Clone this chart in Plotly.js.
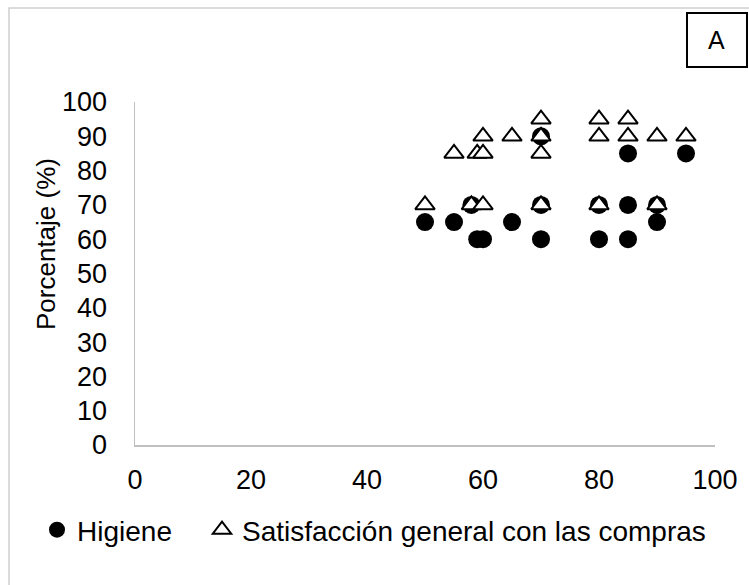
<!DOCTYPE html>
<html>
<head>
<meta charset="utf-8">
<script src="https://cdn.plot.ly/plotly-3.0.1.min.js"></script>
<style>
  html, body { margin: 0; padding: 0; background: #ffffff; }
  #chart { width: 749px; height: 585px; }
</style>
</head>
<body>
<div id="chart"></div>
<script>
// Series: Higiene (filled circles)
var higieneX = [70, 85, 95, 58, 70, 80, 85, 90, 50, 55, 65, 90, 59, 60, 70, 80, 85];
var higieneY = [90, 85, 85, 70, 70, 70, 70, 70, 65, 65, 65, 65, 60, 60, 60, 60, 60];

// Series: Satisfacción general con las compras (open triangles)
var satisX = [55, 59, 60, 60, 65, 70, 70, 70, 80, 80, 85, 85, 90, 95, 50, 58, 60, 70, 80, 90];
var satisY = [85, 85, 85, 90, 90, 95, 90, 85, 95, 90, 95, 90, 90, 90, 70, 70, 70, 70, 70, 70];

var seriesNames = ["Higiene", "Satisfacción general con las compras"];
var xTicks = [0, 20, 40, 60, 80, 100];
var yTicks = [0, 10, 20, 30, 40, 50, 60, 70, 80, 90, 100];
var yTitle = "Porcentaje (%)";
var panelLabel = "A";

var FONT = "Liberation Sans, Arial, sans-serif";

var traces = [
  {
    type: "scatter", mode: "markers", name: seriesNames[0],
    x: higieneX, y: higieneY, legend: "legend",
    marker: { symbol: "circle", size: 18, color: "#000000", line: { width: 0 } },
    cliponaxis: false
  },
  {
    type: "scatter", mode: "markers", name: seriesNames[1],
    x: satisX, y: satisY, legend: "legend2",
    marker: { symbol: "triangle-up", size: 17, color: "#ffffff", line: { width: 2, color: "#000000" } },
    cliponaxis: false
  }
];

var W = 749, H = 585;
var ml = 135, mr = 34, mt = 102, mb = 140;
var pw = W - ml - mr, ph = H - mt - mb;
function px2x(p) { return (p - ml) / pw; }
function py2y(p) { return (H - mb - p) / ph; }

var legendFont = { family: FONT, size: 28, color: "#000000" };

var layout = {
  width: W, height: H,
  margin: { l: ml, r: mr, t: mt, b: mb, pad: 0 },
  paper_bgcolor: "#ffffff", plot_bgcolor: "#ffffff",
  font: { family: FONT, color: "#000000", size: 26 },
  showlegend: true,
  xaxis: {
    range: [0, 100], tickvals: xTicks, ticktext: xTicks.map(String),
    showgrid: false, zeroline: false, showline: true, linecolor: "#c0c0c0", linewidth: 1.5,
    ticks: "", ticklabelstandoff: 10,
    tickfont: { family: FONT, size: 27, color: "#000000" },
    fixedrange: true
  },
  yaxis: {
    range: [0, 100], tickvals: yTicks, ticktext: yTicks.map(String),
    showgrid: false, zeroline: false, showline: true, linecolor: "#c0c0c0", linewidth: 1.5,
    ticks: "", ticklabelstandoff: 21,
    tickfont: { family: FONT, size: 27, color: "#000000" },
    fixedrange: true
  },
  legend: {
    orientation: "h",
    x: px2x(37), xanchor: "left",
    y: py2y(530), yanchor: "middle",
    font: legendFont,
    bgcolor: "rgba(0,0,0,0)", borderwidth: 0,
    itemclick: false, itemdoubleclick: false
  },
  legend2: {
    orientation: "h",
    x: px2x(202), xanchor: "left",
    y: py2y(530), yanchor: "middle",
    font: legendFont,
    bgcolor: "rgba(0,0,0,0)", borderwidth: 0,
    itemclick: false, itemdoubleclick: false
  },
  shapes: [
    { type: "rect", xref: "paper", yref: "paper",
      x0: px2x(9), x1: px2x(800), y0: py2y(640), y1: py2y(8),
      line: { color: "#d0d0d0", width: 1.5 }, fillcolor: "rgba(0,0,0,0)", layer: "below" },
    { type: "rect", xref: "paper", yref: "paper",
      x0: px2x(687), x1: px2x(747), y0: py2y(67), y1: py2y(13),
      line: { color: "#000000", width: 2 }, fillcolor: "#ffffff" }
  ],
  annotations: [
    { text: panelLabel, xref: "paper", yref: "paper", x: px2x(717), y: py2y(40),
      xanchor: "center", yanchor: "middle", showarrow: false,
      font: { family: FONT, size: 25, color: "#000000" } },
    { text: yTitle, xref: "paper", yref: "paper", x: px2x(46), y: py2y(244),
      xanchor: "center", yanchor: "middle", showarrow: false, textangle: -90,
      font: { family: FONT, size: 26, color: "#000000" } }
  ]
};

Plotly.newPlot("chart", traces, layout, { displayModeBar: false, staticPlot: true });
</script>
</body>
</html>
